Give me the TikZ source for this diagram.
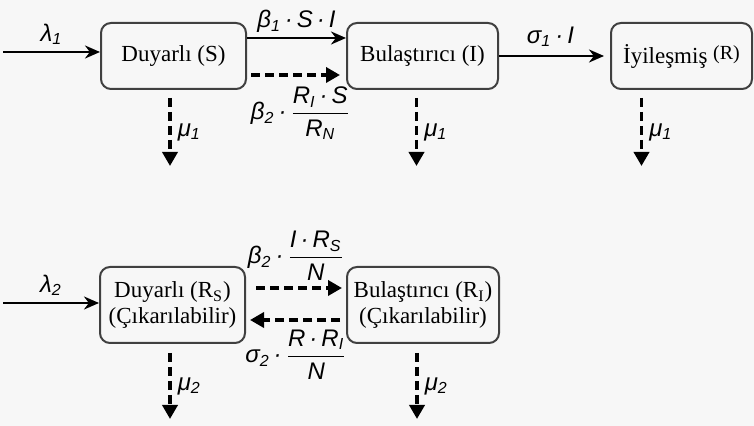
\documentclass[tikz,border=0pt]{standalone}
\usepackage{amsmath}
\usepackage{fontspec}
\setmainfont{Liberation Serif}
\newfontfamily\lblfont{Liberation Sans}
\usetikzlibrary{arrows.meta,positioning}

% label text in sans italic
\newcommand{\ml}[1]{{\lblfont\itshape #1}}
\newcommand{\mfrac}[2]{$\dfrac{\hbox{\ml{#1}}}{\hbox{\ml{#2}}}$}

\tikzset{
    comp/.style={draw=black!75, rounded corners=5pt, line width=1pt,
        minimum height=33pt, inner sep=0pt, align=center,
        font=\fontsize{11.5}{13}\selectfont},
    flow/.style={-{Stealth[length=7.5pt,width=6.5pt]}, line width=1.2pt},
    dflow/.style={-{Triangle[length=7pt,width=7.5pt]}, line width=1.8pt,
        dash pattern=on 4.5pt off 2.5pt},
    rate/.style={font=\fontsize{12}{14}\selectfont, inner sep=1pt}
}

\begin{document}
\begin{tikzpicture}[x=0.5pt,y=-0.5pt]

% background
\fill[gray!6] (0,0) rectangle (754,426);
\useasboundingbox (0,0) rectangle (754,426);

% Compartments, upper row
\node[comp, minimum width=72.5pt] (S) at (173.5,56) {Duyarlı (S)};
\node[comp, minimum width=75.5pt] (I) at (422.5,56) {Bulaştırıcı (I)};
\node[comp, minimum width=70.5pt] (R) at (681.5,56)
    {İyileşmiş \raisebox{2pt}{\fontsize{10}{12}\selectfont (R)}};

% Compartments, lower row
\node[comp, minimum width=72.5pt, minimum height=38pt] (RS) at (172.5,305)
    {Duyarlı (R\textsubscript{S})\\(Çıkarılabilir)};
\node[comp, minimum width=76pt, minimum height=38pt] (RI) at (423,305)
    {Bulaştırıcı (R\textsubscript{I})\\(Çıkarılabilir)};

% Inflows
\coordinate (in1) at (3,52);
\coordinate (in2) at (3,303);
\draw[flow] (in1) -- (in1 -| S.west)
    node[rate, midway, above=2pt] {\ml{λ\textsubscript{1}}};
\draw[flow] (in2) -- (in2 -| RS.west)
    node[rate, midway, above=2pt] {\ml{λ\textsubscript{2}}};

% S -> I
\draw[flow] ([yshift=9pt]S.east) -- ([yshift=9pt]I.west)
    node[rate, midway, above=1pt] {\ml{β\textsubscript{1}\,·\,S\,·\,I}};
\draw[dflow, shorten <=2pt, shorten >=3pt] ([yshift=-9.5pt]S.east) -- ([yshift=-9.5pt]I.west)
    node[rate, midway, below=4pt, xshift=2pt] {\ml{β\textsubscript{2}\,·\,}\mfrac{R\textsubscript{I}\,·\,S}{R\textsubscript{N}}};

% I -> R
\draw[flow, shorten >=3pt] (I.east) -- (R.west)
    node[rate, midway, above=3pt, xshift=-2pt] {\ml{σ\textsubscript{1}\,·\,I}};

% RS <-> RI
\draw[dflow, shorten <=5pt, shorten >=2pt] ([yshift=8.5pt]RS.east) -- ([yshift=8.5pt]RI.west)
    node[rate, midway, above=2pt] {\ml{β\textsubscript{2}\,·\,}\mfrac{I\,·\,R\textsubscript{S}}{N}};
\draw[dflow, shorten <=3pt, shorten >=2pt] ([yshift=-7.5pt]RI.west) -- ([yshift=-7.5pt]RS.east)
    node[rate, midway, below=3pt] {\ml{σ\textsubscript{2}\,·\,}\mfrac{R\,·\,R\textsubscript{I}}{N}};

% Deaths
\draw[dflow] ([xshift=-1.75pt,yshift=-4pt]S.south) -- ++(0,68)
    node[rate, midway, right=2pt] {\ml{μ\textsubscript{1}}};
\draw[dflow] ([xshift=-3pt,yshift=-4pt]I.south) -- ++(0,68)
    node[rate, midway, right=2pt] {\ml{μ\textsubscript{1}}};
\draw[dflow] ([xshift=-20pt,yshift=-4pt]R.south) -- ++(0,68)
    node[rate, midway, right=2pt] {\ml{μ\textsubscript{1}}};
\draw[dflow] ([xshift=-1.25pt,yshift=-4.5pt]RS.south) -- ++(0,66)
    node[rate, midway, right=2pt] {\ml{μ\textsubscript{2}}};
\draw[dflow] ([xshift=-3pt,yshift=-4.5pt]RI.south) -- ++(0,66)
    node[rate, midway, right=2pt] {\ml{μ\textsubscript{2}}};

\end{tikzpicture}
\end{document}
